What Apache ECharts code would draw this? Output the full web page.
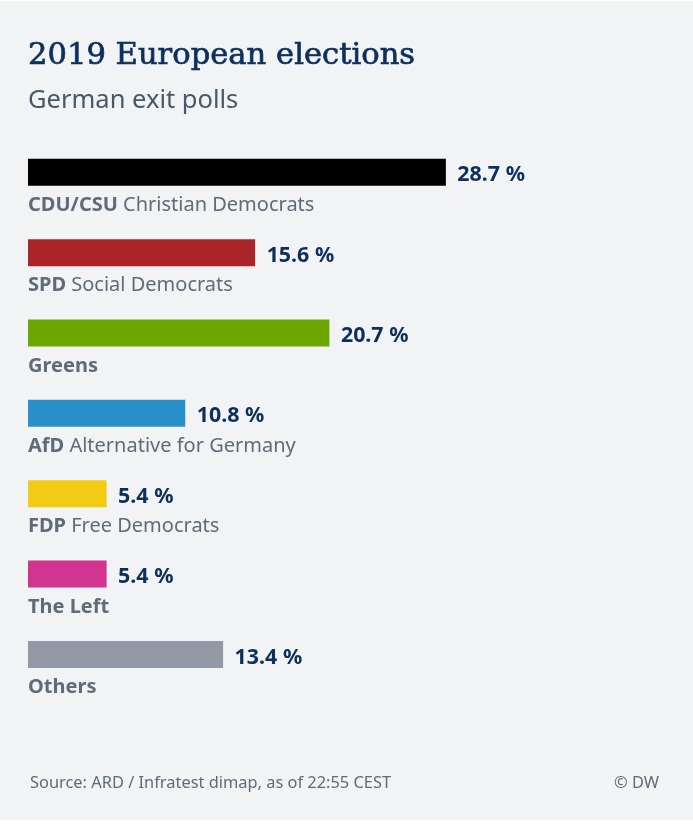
<!DOCTYPE html>
<html>
<head>
<meta charset="utf-8">
<title>2019 European elections</title>
<script src="https://cdn.jsdelivr.net/npm/echarts@6/dist/echarts.min.js"></script>
<style>
    html, body { margin: 0; padding: 0; background: #fff; }
    #canvasContainer { position: absolute; left: 0; top: 1px; width: 693px; height: 819px; }
</style>
</head>
<body>
<div id="canvasContainer"></div>
<script>
var parties = ['CDU/CSU', 'SPD', 'Greens', 'AfD', 'FDP', 'The Left', 'Others'];
var partyNames = ['Christian Democrats', 'Social Democrats', '', 'Alternative for Germany', 'Free Democrats', '', ''];
var shares = [28.7, 15.6, 20.7, 10.8, 5.4, 5.4, 13.4];
var barColors = ['#000000', '#ab2628', '#6ca600', '#2a90ca', '#f2cb12', '#d2358f', '#9299a5'];

var sansFont = '"Noto Sans", "Open Sans", sans-serif';
var chart = echarts.init(document.getElementById('canvasContainer'));
var option = {
    animation: false,
    backgroundColor: '#f1f3f5',
    title: [
        {
            text: '2019 European elections',
            left: 23, top: 35,
            textStyle: {
                color: '#0c2f5c',
                fontFamily: '"DejaVu Serif", serif',
                fontWeight: 'normal',
                fontSize: 30.6,
                textBorderColor: '#0c2f5c',
                textBorderWidth: 0.7
            }
        },
        {
            text: 'German exit polls',
            left: 23, top: 82,
            textStyle: { color: '#46586a', fontFamily: sansFont, fontWeight: 'normal', fontSize: 25.5 }
        },
        {
            text: 'Source: ARD / Infratest dimap, as of 22:55 CEST',
            left: 25, top: 769,
            textStyle: { color: '#5f6b78', fontFamily: sansFont, fontWeight: 'normal', fontSize: 16.4 }
        },
        {
            text: '© DW',
            right: 29, top: 769,
            textStyle: { color: '#5f6b78', fontFamily: sansFont, fontWeight: 'normal', fontSize: 16.4 }
        }
    ],
    grid: { left: 28, top: 131.1, width: 436.8, height: 562.5 },
    xAxis: { type: 'value', min: 0, max: 30, show: false },
    yAxis: {
        type: 'category',
        inverse: true,
        data: parties,
        axisLine: { show: false },
        axisTick: { show: false },
        axisLabel: {
            inside: true,
            margin: 0,
            align: 'left',
            verticalAlign: 'top',
            padding: [23, 0, 0, 0],
            formatter: function (value, index) {
                return '{party|' + value + '}{name| ' + partyNames[index] + '}';
            },
            rich: {
                party: { color: '#5f6b78', fontFamily: sansFont, fontWeight: 'bold', fontSize: 20 },
                name: { color: '#5f6b78', fontFamily: sansFont, fontSize: 20 }
            }
        }
    },
    series: [
        {
            type: 'bar',
            barWidth: 27,
            data: shares.map(function (v, i) {
                return { value: v, itemStyle: { color: barColors[i] } };
            }),
            label: {
                show: true,
                position: 'right',
                distance: 11.5,
                offset: [0, 3],
                formatter: '{c} %',
                color: '#0c2f5c',
                fontFamily: sansFont,
                fontWeight: 'bold',
                fontSize: 21.4
            }
        }
    ]
};
chart.setOption(option);
</script>
</body>
</html>
